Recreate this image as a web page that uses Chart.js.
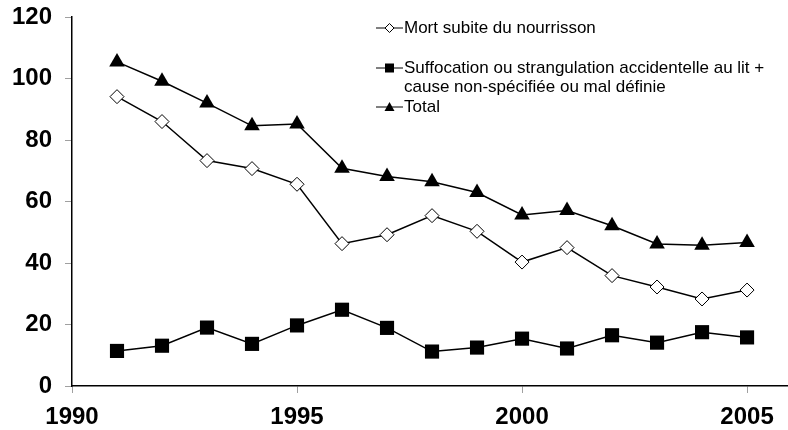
<!DOCTYPE html>
<html>
<head>
<meta charset="utf-8">
<script src="https://cdn.jsdelivr.net/npm/chart.js@4.4.1/dist/chart.umd.min.js"></script>
<style>
  html, body { margin: 0; padding: 0; background: #fff; overflow: hidden; }
  #wrap { position: relative; width: 788px; height: 430px; }
  .leg { position: absolute; left: 376px; font: 17px "Liberation Sans", Arial, sans-serif; color: #000; line-height: 19px; }
  .leg svg { position: absolute; left: 0; top: 2px; }
  .leg span { display: block; margin-left: 28px; white-space: nowrap; }
</style>
</head>
<body>
<div id="wrap">
  <canvas id="chart" width="788" height="430"></canvas>
  <div class="leg" style="top:18px">
    <svg width="27" height="16"><line x1="0" y1="8" x2="27" y2="8" stroke="#000" stroke-width="1"/><path d="M13.5 3.5 L18 8 L13.5 12.5 L9 8 Z" fill="#fff" stroke="#000" stroke-width="1"/></svg>
    <span>Mort subite du nourrisson</span>
  </div>
  <div class="leg" style="top:58px">
    <svg width="27" height="16"><line x1="0" y1="8" x2="27" y2="8" stroke="#000" stroke-width="1"/><rect x="9" y="3.5" width="9" height="9" fill="#000"/></svg>
    <span>Suffocation ou strangulation accidentelle au lit +</span>
    <span>cause non-spécifiée ou mal définie</span>
  </div>
  <div class="leg" style="top:97px">
    <svg width="27" height="16"><line x1="0" y1="8" x2="27" y2="8" stroke="#000" stroke-width="1"/><path d="M13.5 3 L18.5 12 L8.5 12 Z" fill="#000"/></svg>
    <span>Total</span>
  </div>
</div>
<script>
// Series
const years = [1991, 1992, 1993, 1994, 1995, 1996, 1997, 1998, 1999, 2000, 2001, 2002, 2003, 2004, 2005];
const mortSubite = [94.1, 86.0, 73.3, 70.7, 65.6, 46.3, 49.2, 55.4, 50.3, 40.3, 45.0, 35.9, 32.2, 28.3, 31.2];
const suffocation = [11.4, 13.1, 19.0, 13.7, 19.7, 24.8, 18.9, 11.2, 12.5, 15.4, 12.2, 16.5, 14.1, 17.5, 15.8];
const total = [105.4, 99.1, 92.0, 84.6, 85.2, 70.8, 68.1, 66.4, 62.9, 55.6, 57.1, 52.1, 46.2, 45.8, 46.7];
const xTicks = [1990, 1995, 2000, 2005];
const yTicks = [0, 20, 40, 60, 80, 100, 120];

const pts = vals => vals.map((v, i) => ({ x: years[i], y: v }));
const tickFont = { family: '"Liberation Sans", Arial, sans-serif', size: 24, weight: 'bold' };

new Chart(document.getElementById('chart'), {
  type: 'line',
  data: {
    datasets: [
      { label: 'Total', data: pts(total), borderColor: '#000', borderWidth: 1.5,
        pointStyle: 'triangle', pointRadius: 9, pointBackgroundColor: '#000', pointBorderColor: '#000', pointBorderWidth: 0 },
      { label: 'Mort subite du nourrisson', data: pts(mortSubite), borderColor: '#000', borderWidth: 1.5,
        pointStyle: 'rectRot', pointRadius: 7, pointBackgroundColor: '#fff', pointBorderColor: '#000', pointBorderWidth: 1 },
      { label: 'Suffocation', data: pts(suffocation), borderColor: '#000', borderWidth: 1.5,
        pointStyle: 'rect', pointRadius: 10, pointBackgroundColor: '#000', pointBorderColor: '#000', pointBorderWidth: 0 }
    ]
  },
  options: {
    responsive: false,
    animation: false,
    layout: { autoPadding: false, padding: { top: 17, right: 0, left: 0, bottom: 0 } },
    plugins: { legend: { display: false }, tooltip: { enabled: false } },
    elements: { line: { tension: 0 } },
    scales: {
      x: {
        type: 'linear', min: 1990, max: 2005.91,
        afterBuildTicks: s => { s.ticks = xTicks.map(v => ({ value: v })); },
        afterFit: s => { s.height = 44; },
        grid: { drawOnChartArea: false, tickLength: 7, tickColor: '#a0a0a0', tickWidth: 1 },
        border: { color: '#000', width: 1.5 },
        ticks: { color: '#000', font: tickFont, padding: 10, maxRotation: 0, callback: v => String(v) }
      },
      y: {
        min: 0, max: 120,
        afterBuildTicks: s => { s.ticks = yTicks.map(v => ({ value: v })); },
        afterFit: s => { s.width = 72; s.paddingTop = 0; s.paddingBottom = 0; },
        grid: { drawOnChartArea: false, tickLength: 7, tickColor: '#a0a0a0', tickWidth: 1 },
        border: { color: '#000', width: 1.5 },
        ticks: { color: '#000', font: tickFont, padding: 13 }
      }
    }
  }
});
</script>
</body>
</html>
